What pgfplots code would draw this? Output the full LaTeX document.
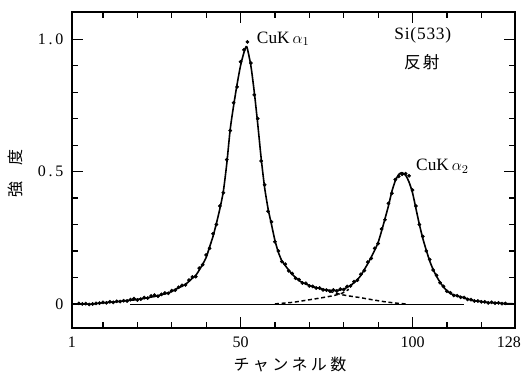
\documentclass[border=0pt]{standalone}
\usepackage{pgfplots}
\pgfplotsset{compat=1.18}
\usepackage{fontspec}
\setmainfont{Liberation Serif}
\newfontfamily\jp{Noto Sans CJK JP}
\pgfplotstableread{
x y
1 0.000
2 0.000
3 0.000
4 0.000
5 -0.001
6 -0.001
7 -0.001
8 0.001
9 0.003
10 0.004
11 0.005
12 0.006
13 0.007
14 0.008
15 0.010
16 0.011
17 0.013
18 0.014
19 0.015
20 0.017
21 0.019
22 0.021
23 0.023
24 0.026
25 0.028
26 0.031
27 0.035
28 0.038
29 0.042
30 0.047
31 0.054
32 0.061
33 0.067
34 0.074
35 0.085
36 0.097
37 0.108
38 0.128
39 0.150
40 0.175
41 0.215
42 0.255
43 0.305
44 0.360
45 0.425
46 0.530
47 0.660
48 0.750
49 0.830
50 0.900
51 0.950
51.8 0.972
53 0.900
54 0.800
55 0.680
56 0.550
57 0.440
58 0.360
59 0.300
60 0.240
61 0.195
62 0.163
63 0.145
64 0.128
65 0.112
66 0.100
67 0.088
68 0.081
69 0.075
70 0.070
71 0.065
72 0.062
73 0.058
74 0.055
75 0.053
76 0.051
77 0.050
78 0.051
79 0.053
80 0.056
81 0.063
82 0.070
83 0.080
84 0.092
85 0.108
86 0.130
87 0.152
88 0.177
89 0.203
90 0.232
91 0.275
92 0.322
93 0.370
94 0.425
95 0.465
96 0.489
96.9 0.496
98 0.486
99 0.460
100 0.420
101 0.360
102 0.300
103 0.247
104 0.203
105 0.162
106 0.130
107 0.104
108 0.082
109 0.064
110 0.050
111 0.040
112 0.034
113 0.030
114 0.027
115 0.023
116 0.019
117 0.015
118 0.012
119 0.010
120 0.009
121 0.007
122 0.005
123 0.005
124 0.004
125 0.003
126 0.002
127 0.001
128 0.001
129.8 0.000
}\fit
\pgfplotstableread{
x y
3 0.002
4 0.000
5 0.001
6 -0.002
7 0.000
8 0.002
9 0.003
10 0.006
11 0.004
12 0.008
13 0.006
14 0.010
15 0.009
16 0.012
17 0.011
18 0.016
19 0.020
20 0.015
21 0.018
22 0.024
23 0.022
24 0.030
25 0.033
26 0.029
27 0.036
28 0.041
29 0.040
30 0.050
31 0.052
32 0.063
33 0.070
34 0.072
35 0.090
36 0.102
37 0.103
38 0.135
39 0.148
40 0.185
41 0.210
42 0.265
43 0.300
44 0.370
45 0.420
46 0.545
47 0.655
48 0.760
49 0.820
50 0.915
51 0.960
52 0.990
53 0.910
54 0.790
55 0.700
56 0.540
57 0.450
58 0.350
59 0.310
60 0.235
61 0.200
62 0.160
63 0.150
64 0.125
65 0.115
66 0.097
67 0.092
68 0.079
69 0.078
70 0.068
71 0.066
72 0.060
73 0.060
74 0.053
75 0.052
76 0.048
77 0.053
78 0.049
79 0.056
80 0.054
81 0.066
82 0.068
83 0.084
84 0.090
85 0.112
86 0.126
87 0.158
88 0.172
89 0.210
90 0.228
91 0.283
92 0.318
93 0.380
94 0.418
95 0.470
96 0.482
97 0.490
98 0.492
99 0.484
100 0.430
101 0.370
102 0.300
103 0.255
104 0.200
105 0.168
106 0.128
107 0.108
108 0.080
109 0.066
110 0.048
111 0.042
112 0.032
113 0.031
114 0.025
115 0.024
116 0.017
117 0.016
118 0.011
119 0.011
120 0.008
121 0.008
122 0.004
123 0.006
124 0.003
125 0.004
126 0.001
127 0.002
}\meas
\pgfplotstableread{
x y
74 0.055
76.5 0.045
79 0.036
81 0.031
84.7 0.024
88.6 0.015
92.5 0.007
96 0.002
98 0.000
}\tailA
\pgfplotstableread{
x y
60 0.000
65.3 0.006
69.2 0.014
73.1 0.022
77 0.031
79.5 0.040
81.5 0.055
}\tailB
\begin{document}
\begin{tikzpicture}
\begin{axis}[
  scale only axis, width=332.25pt, height=237pt,
  xmin=1, xmax=129.8, ymin=-0.091, ymax=1.103,
  xtick={1,50,100}, xticklabels={1,50,100},
  extra x ticks={128}, extra x tick labels={128},
  extra x tick style={major tick length=0pt},
  minor xtick={10,20,...,120},
  ytick={0,0.5,1}, yticklabels={0,0\,.\,5,1\,.\,0},
  minor ytick={0.1,0.2,0.3,0.4,0.6,0.7,0.8,0.9},
  tick align=inside,
  major tick length=8pt, minor tick length=4.5pt,
  axis line style={line width=1.1pt},
  tick style={line width=0.9pt, black},
  tick label style={font=\fontsize{12}{14}\selectfont},
  yticklabel style={xshift=-3pt},
  xticklabel style={yshift=-3pt},
  xlabel={\jp チ\kern2.5ptャ\kern2.5ptン\kern2.5ptネ\kern2.5ptル\kern2.5pt数},
  ylabel={\jp 強\hspace{12pt}度},
  every axis x label/.style={at={(rel axis cs:0.492,0)}, anchor=center, yshift=-27pt, font=\fontsize{12}{14}\selectfont},
  every axis y label/.style={at={(rel axis cs:0,0.49)}, rotate=90, anchor=center, yshift=42.75pt, font=\fontsize{12}{14}\selectfont},
  clip=false,
]
\addplot[black, line width=0.6pt] coordinates {(18,0) (115,0)};
\addplot[black, line width=1.1pt, dash pattern=on 3pt off 2pt] table[x=x,y=y] {\tailA};
\addplot[black, line width=1.1pt, dash pattern=on 3pt off 2pt] table[x=x,y=y] {\tailB};
\addplot[black, line width=1.2pt, smooth, tension=0.4] table[x=x,y=y] {\fit};
\addplot[only marks, mark=*, mark size=1.2pt, black] table[x=x,y=y] {\meas};
\node[anchor=base west, font=\fontsize{13}{15}\selectfont, inner sep=0pt] at (axis cs:54.7,0.985) {CuK\,$\alpha_{1}$};
\node[anchor=base west, font=\fontsize{13}{15}\selectfont, inner sep=0pt] at (axis cs:101,0.503) {CuK\,$\alpha_{2}$};
\node[anchor=center, font=\fontsize{13}{15}\selectfont, inner sep=0pt] at (axis cs:103,1.016) {S\kern0.6pt i\kern0.6pt (\kern0.6pt 5\kern0.6pt 3\kern0.6pt 3\kern0.6pt )};
\node[anchor=center, font=\fontsize{12.5}{14}\selectfont\jp, inner sep=0pt] at (axis cs:102.7,0.914) {反\kern1.5pt射};
\coordinate (sw) at (rel axis cs:0,0);
\coordinate (ne) at (rel axis cs:1,1);
\end{axis}
\pgfresetboundingbox
\path[use as bounding box] ([xshift=-54pt,yshift=-33.75pt]sw) rectangle ([xshift=9pt,yshift=9pt]ne);
\end{tikzpicture}
\end{document}
